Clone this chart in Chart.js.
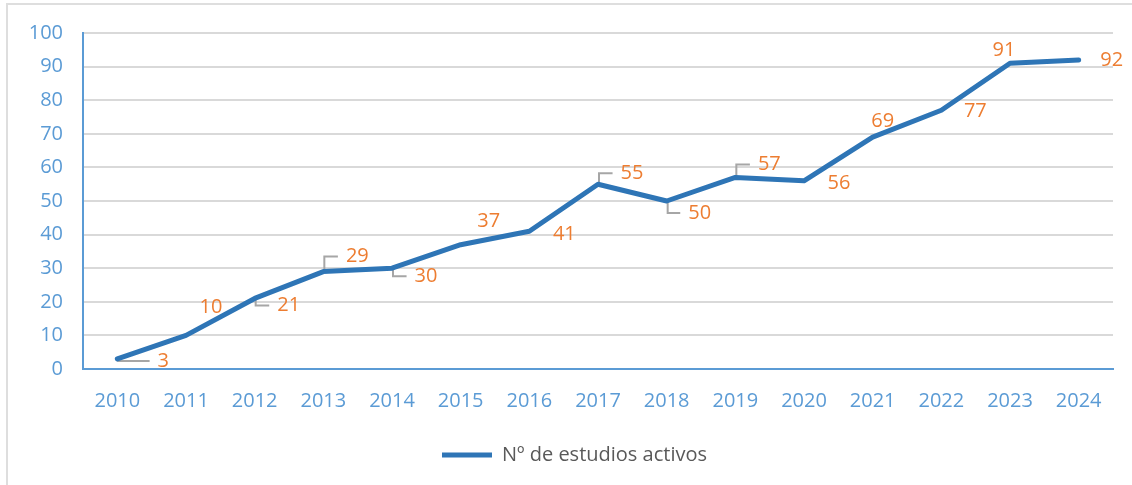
<!DOCTYPE html>
<html lang="es">
<head>
<meta charset="UTF-8">
<title>Nº de estudios activos</title>
<script src="https://cdn.jsdelivr.net/npm/chart.js"></script>
<style>
    html, body { margin: 0; padding: 0; background: #fff; overflow: hidden; }
    .frame { position: absolute; left: 6px; top: 3px; width: 1200px; height: 600px; border: 2px solid #dedede; }
    .wrap { position: absolute; left: 0; top: 0; width: 1132px; height: 485px; }
</style>
</head>
<body>
<div class="frame"></div>
<div class="wrap"><canvas id="chart" width="1132" height="485"></canvas></div>
<script>
    // data
    const years = ['2010', '2011', '2012', '2013', '2014', '2015', '2016', '2017', '2018', '2019', '2020', '2021', '2022', '2023', '2024'];
    const studies = [3, 10, 21, 29, 30, 37, 41, 55, 50, 57, 56, 69, 77, 91, 92];
    const seriesName = 'Nº de estudios activos';

    // where each value label sits relative to its point: [dx, dy, leader line]
    const labelPlacement = [
        [46, 2, true], [25, -28, false], [34, 7, true], [34, -15, true], [34, 8, true],
        [28, -23, false], [35, 3, false], [34, -11, true], [33, 12, true], [34, -13, true],
        [35, 2, false], [10, -16, false], [34, 1, false], [-6, -13, false], [33, 0, false]
    ];

    const FONT = '"Open Sans", sans-serif';

    const valueLabels = {
        id: 'valueLabels',
        afterLayout(chart) {
            // legend sits a little right of the canvas centre in the original
            const lg = chart.legend;
            lg.left += 8;
            lg.right += 8;
        },
        beforeDatasetsDraw(chart) {
            const ctx = chart.ctx;
            const meta = chart.getDatasetMeta(0);
            ctx.save();
            ctx.font = '20px ' + FONT;
            ctx.strokeStyle = '#a6a6a6';
            ctx.lineWidth = 2;
            meta.data.forEach((pt, i) => {
                const [dx, dy, leader] = labelPlacement[i];
                if (!leader) return;
                const text = String(studies[i]);
                const w = ctx.measureText(text).width;
                const lx = pt.x + dx, ly = pt.y + dy;
                ctx.beginPath();
                ctx.moveTo(pt.x + 1, pt.y);
                ctx.lineTo(pt.x + 1, ly);
                ctx.lineTo(lx - w / 2 - 8, ly);
                ctx.stroke();
            });
            ctx.restore();
        },
        afterDatasetsDraw(chart) {
            const ctx = chart.ctx;
            const meta = chart.getDatasetMeta(0);
            ctx.save();
            ctx.font = '20px ' + FONT;
            ctx.fillStyle = '#ed7d31';
            ctx.textAlign = 'center';
            ctx.textBaseline = 'middle';
            meta.data.forEach((pt, i) => {
                const [dx, dy] = labelPlacement[i];
                ctx.fillText(String(studies[i]), pt.x + dx, pt.y + dy);
            });
            ctx.restore();
        }
    };

    new Chart(document.getElementById('chart'), {
        type: 'line',
        data: {
            labels: years,
            datasets: [{
                label: seriesName,
                data: studies,
                borderColor: '#2e75b6',
                backgroundColor: '#2e75b6',
                borderWidth: 5,
                borderCapStyle: 'round',
                borderJoinStyle: 'round',
                pointRadius: 0,
                tension: 0
            }]
        },
        options: {
            responsive: false,
            animation: false,
            layout: { padding: { left: 20, top: 33, right: 19, bottom: 10 } },
            plugins: {
                tooltip: { enabled: false },
                legend: {
                    position: 'bottom',
                    labels: {
                        usePointStyle: true,
                        pointStyle: 'line',
                        pointStyleWidth: 50,
                        color: '#595959',
                        font: { family: FONT, size: 20 },
                        padding: 10
                    }
                }
            },
            scales: {
                x: {
                    offset: true,
                    grid: { display: false, drawTicks: false },
                    border: { color: '#5b9bd5', width: 2 },
                    ticks: { color: '#5b9bd5', font: { family: FONT, size: 20 }, padding: 20, maxRotation: 0 },
                    afterFit(scale) { scale.height = 66; }
                },
                y: {
                    min: 0,
                    max: 100,
                    ticks: { stepSize: 10, color: '#5b9bd5', font: { family: FONT, size: 20 }, padding: 20 },
                    grid: { color: '#d9d9d9', lineWidth: 2, drawTicks: false },
                    border: { color: '#5b9bd5', width: 2 },
                    afterFit(scale) { scale.width = 63; }
                }
            }
        },
        plugins: [valueLabels]
    });
</script>
</body>
</html>
